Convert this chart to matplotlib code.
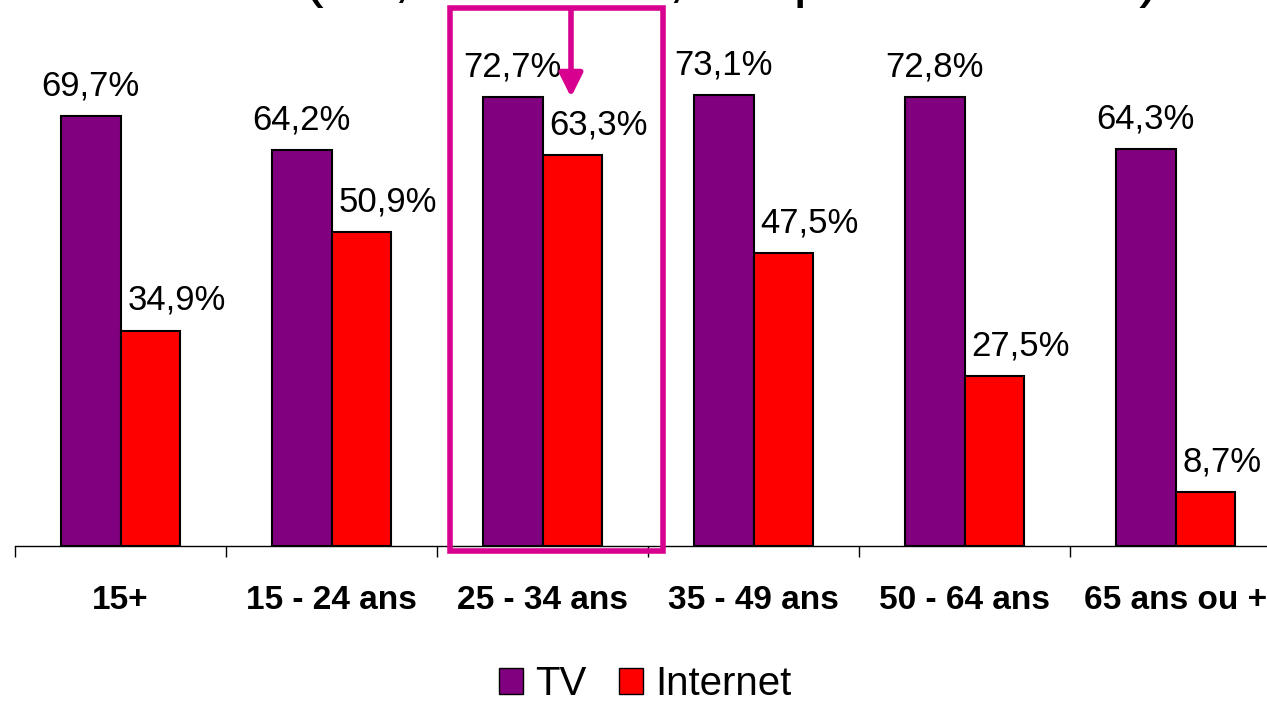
import matplotlib.pyplot as plt
from matplotlib.patches import Rectangle, Patch

plt.rcParams['font.family'] = ['Liberation Sans', 'DejaVu Sans']

categories = ['15+', '15 - 24 ans', '25 - 34 ans', '35 - 49 ans', '50 - 64 ans', '65 ans ou +']
tv = [69.7, 64.2, 72.7, 73.1, 72.8, 64.3]
internet = [34.9, 50.9, 63.3, 47.5, 27.5, 8.7]
title = "Internet est le 1er média des 25 - 34 ans (63,3% vs 34,9% pour les 15+)"

TV_COL = '#800080'
NET_COL = '#FF0000'
PINK = '#D8008F'

fig = plt.figure(figsize=(12.67, 7.05), dpi=100)
ax = fig.add_axes([15 / 1267, 1 - 546 / 705, 1266 / 1267, 546 / 705])

x = range(len(categories))
w = 0.284
ax.bar([i - w / 2 for i in x], tv, width=w, color=TV_COL, edgecolor='black', linewidth=1.5)
ax.bar([i + w / 2 for i in x], internet, width=w, color=NET_COL, edgecolor='black', linewidth=1.5)

for i in x:
    ax.annotate(f"{tv[i]:.1f}%".replace('.', ','), (i - w / 2, tv[i]), xytext=(0, 15),
                textcoords='offset points', ha='center', va='baseline', fontsize=25)
    ax.annotate(f"{internet[i]:.1f}%".replace('.', ','), (i, internet[i]), xytext=(5, 15),
                textcoords='offset points', ha='left', va='baseline', fontsize=25)

ax.set_xlim(-0.5, len(categories) - 0.5)
ax.set_ylim(0, 88.5)
for s in ['top', 'right', 'left']:
    ax.spines[s].set_visible(False)
ax.spines['bottom'].set_linewidth(1)
ax.set_yticks([])
ax.set_xticks(list(x))
ax.set_xticklabels(categories, fontsize=24, fontweight='bold')
ax.tick_params(axis='x', which='major', length=0, pad=28)
ax.set_xticks([i - 0.5 for i in range(len(categories) + 1)], minor=True)
ax.tick_params(axis='x', which='minor', length=8, width=1, direction='out')

# highlight box + arrow on 25-34
ax.add_patch(Rectangle((2 - 0.438, -0.8), 1.009, 88.0, fill=False, edgecolor=PINK,
                       linewidth=4, clip_on=False, zorder=5))
ax.annotate('', xy=(2.135, 72.3), xytext=(2.135, 87.2),
            arrowprops=dict(arrowstyle='-|>,head_length=1.4,head_width=0.7', color=PINK, lw=4),
            annotation_clip=False, zorder=6)

fig.text(1160 / 1267, 1 + 5 / 705, title, ha='right', va='baseline', fontsize=45)

handles = [Patch(facecolor=TV_COL, edgecolor='black'), Patch(facecolor=NET_COL, edgecolor='black')]
fig.legend(handles, ['TV', 'Internet'], loc='lower center', bbox_to_anchor=(0.509, -0.026),
           ncol=2, frameon=False, fontsize=29, handlelength=0.6, handleheight=0.6,
           handletextpad=0.3, columnspacing=0.8, borderpad=0)

fig.savefig('out.png', dpi=100)
